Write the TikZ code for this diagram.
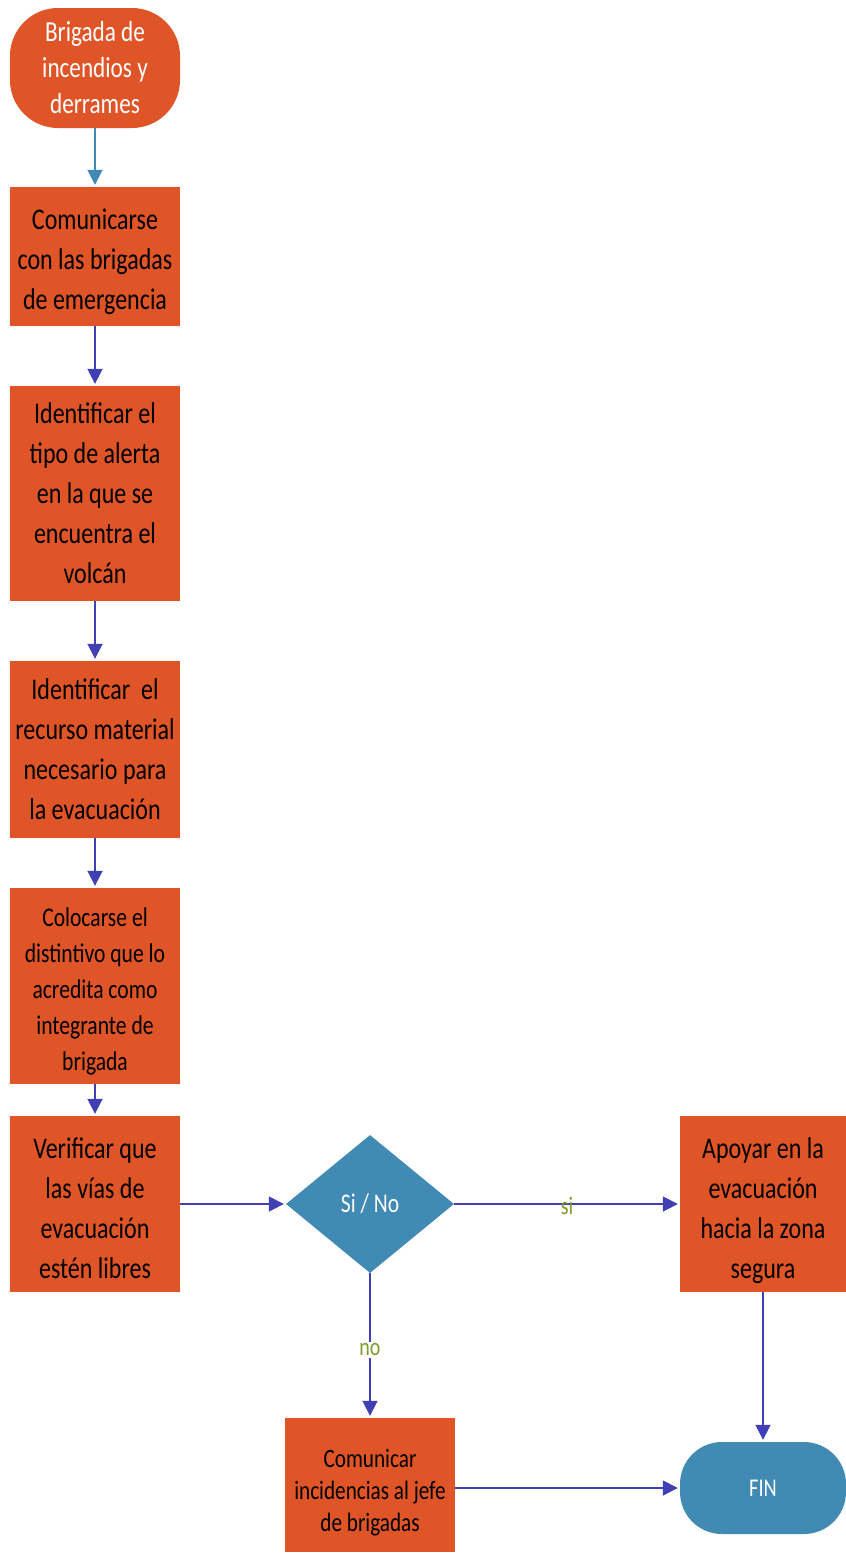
\documentclass[tikz,border=0pt]{standalone}
\usepackage{fontspec}
\setmainfont{Carlito}[FakeStretch=0.8]
\usetikzlibrary{shapes.geometric,arrows.meta}
\definecolor{orng}{HTML}{E05528}
\definecolor{teal}{HTML}{418AB3}
\definecolor{arr}{HTML}{4040B4}
\definecolor{lbl}{HTML}{7F9A2A}
\newcommand{\tdn}[1]{\rule{0pt}{#1}}
\begin{document}
\begin{tikzpicture}[x=1pt,y=1pt,
  procbox/.style={fill=orng,draw=none,inner sep=0pt,align=center,text=black,font=\fontsize{30}{40}\selectfont},
  termbox/.style={draw=none,inner sep=0pt,align=center,text=white},
  flow/.style={draw=arr,line width=1.8pt,-{Triangle[length=15pt,width=15pt]},shorten >=2pt},
  lab/.style={text=lbl,font=\fontsize{25}{28}\selectfont,inner sep=2pt}]
\useasboundingbox (0,0) rectangle (846,-1553);
\node[termbox,fill=orng,minimum width=170pt,minimum height=120pt,rounded corners=48pt,font=\fontsize{29}{36}\selectfont] (start) at (95,-68) {Brigada de\\incendios y\\derrames};
\node[procbox,minimum width=170pt,minimum height=139pt] (b2) at (95,-256.5) {\tdn{31pt}Comunicarse\\con las brigadas\\de emergencia};
\node[procbox,minimum width=170pt,minimum height=215pt] (b3) at (95,-493.5) {Identificar el\\tipo de alerta\\en la que se\\encuentra el\\volcán};
\node[procbox,minimum width=170pt,minimum height=177pt] (b4) at (95,-749.5) {Identificar\ \ el\\recurso material\\necesario para\\la evacuación};
\node[procbox,minimum width=170pt,minimum height=196pt,font=\fontsize{27}{36}\selectfont] (b5) at (95,-986) {\tdn{30pt}Colocarse el\\distintivo que lo\\acredita como\\integrante de\\brigada};
\node[procbox,minimum width=170pt,minimum height=176pt] (b6) at (95,-1204) {\tdn{30pt}Verificar que\\las vías de\\evacuación\\estén libres};
\node[diamond,fill=teal,draw=none,inner sep=0pt,minimum width=168pt,minimum height=138pt,text=white,font=\fontsize{27}{30}\selectfont] (d) at (370,-1204) {Si / No};
\node[procbox,minimum width=166pt,minimum height=176pt] (b7) at (763,-1204) {\tdn{35pt}Apoyar en la\\evacuación\\hacia la zona\\segura};
\node[procbox,minimum width=170pt,minimum height=134pt,font=\fontsize{26.5}{32}\selectfont] (b8) at (370,-1485) {\tdn{34pt}Comunicar\\incidencias al jefe\\de brigadas};
\node[termbox,fill=teal,minimum width=166pt,minimum height=92pt,rounded corners=42pt,font=\fontsize{25.5}{28}\selectfont] (fin) at (763,-1488) {FIN};
\draw[flow,draw=teal] (start) -- (b2);
\draw[flow] (b2) -- (b3);
\draw[flow] (b3) -- (b4);
\draw[flow] (b4) -- (b5);
\draw[flow] (b5) -- (b6);
\draw[flow] (b6) -- (d);
\draw[flow] (d) -- node[lab,pos=0.5,yshift=-2pt]{si} (b7);
\draw[flow] (d) -- node[lab,fill=white,pos=0.53]{no} (b8);
\draw[flow] (b7) -- (fin);
\draw[flow] (b8.east |- fin) -- (fin);
\end{tikzpicture}
\end{document}
